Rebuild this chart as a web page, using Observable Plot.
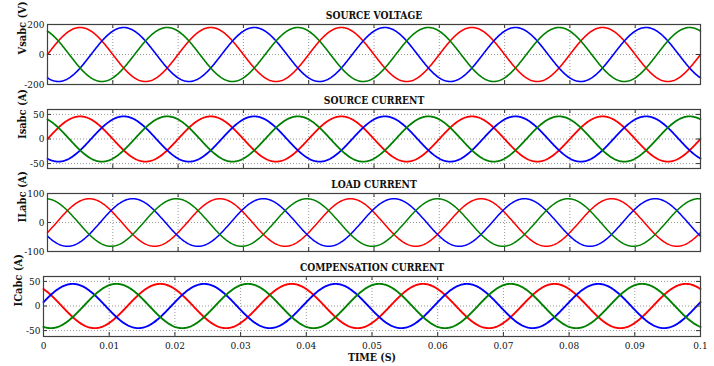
<!DOCTYPE html>
<html><head><meta charset="utf-8">
<script src="https://cdn.jsdelivr.net/npm/d3@7"></script>
<script src="https://cdn.jsdelivr.net/npm/@observablehq/plot@0.6"></script>
<style>
html,body{margin:0;padding:0;background:#fff;}
#chart{position:relative;width:714px;height:366px;overflow:hidden;background:#fff;}
#chart svg{position:absolute;left:0;}
</style></head><body><div id="chart"></div>
<script>
// ---- data ----
const phaseNames = ["a", "b", "c"];
const phaseColors = ["#ff0000", "#0000ff", "#008000"];
const frequencyHz = 50;
const timeStart = 0, timeEnd = 0.1, timeStep = 0.0001;
const xTicks = [0, 0.01, 0.02, 0.03, 0.04, 0.05, 0.06, 0.07, 0.08, 0.09, 0.1];
const xLabel = "TIME (S)";

const titles = ["SOURCE VOLTAGE", "SOURCE CURRENT", "LOAD CURRENT", "COMPENSATION CURRENT"];
const yLabels = ["Vsabc (V)", "Isabc (A)", "ILabc (A)", "ICabc (A)"];
const yDomains = [[-200, 200], [-60, 60], [-100, 100], [-62, 60]];
const yTickValues = [[-200, 0, 200], [-50, 0, 50], [-100, 0, 100], [-50, 0, 50]];

// peak amplitude and phase angle (degrees) of phases a, b, c
const sourceVoltageAmp = [180, 180, 180];
const sourceVoltagePhase = [0, -120, 120];
const sourceCurrentAmp = [46, 46, 46];
const sourceCurrentPhase = [0, -120, 120];
const loadCurrentAmp = [82, 82, 82];
const loadCurrentPhase = [-25, -145, 95];
const compCurrentAmp = [45, 45, 45];
const compCurrentPhase = [130, 10, 250];

const panelAmps = [sourceVoltageAmp, sourceCurrentAmp, loadCurrentAmp, compCurrentAmp];
const panelPhases = [sourceVoltagePhase, sourceCurrentPhase, loadCurrentPhase, compCurrentPhase];

// ---- build waveform tables ----
function waveform(amps, phases) {
  const rows = [];
  const n = Math.round((timeEnd - timeStart) / timeStep);
  phaseNames.forEach((p, k) => {
    for (let i = 0; i <= n; i++) {
      const t = timeStart + i * timeStep;
      rows.push({t, v: amps[k] * Math.sin(2 * Math.PI * frequencyHz * t + phases[k] * Math.PI / 180), phase: p});
    }
  });
  return rows;
}

const layout = [
  {top: 0,   height: 88,  mt: 24, mb: 4,  ml: 47, sw: 1.6},
  {top: 88,  height: 84,  mt: 21, mb: 4,  ml: 47, sw: 1.8},
  {top: 172, height: 84,  mt: 21, mb: 5,  ml: 47, sw: 1.5},
  {top: 256, height: 110, mt: 20, mb: 30, ml: 43, sw: 1.9}
];
const W = 714, MR = 14;
const serif = "'DejaVu Serif Condensed','DejaVu Serif',serif";
const yFmt = d => d < 0 ? "-" + (-d) : String(d);
const xFmt = d => d === 0 ? "0" : String(+d.toFixed(2));

const chart = document.getElementById("chart");
layout.forEach((L, i) => {
  const fh = L.height - L.mt - L.mb;
  const fw = W - L.ml - MR;
  const last = i === layout.length - 1;
  const yGrid = yTickValues[i].filter(v => v > yDomains[i][0] && v < yDomains[i][1]);
  const marks = [
    Plot.ruleX(xTicks, {x: d => d, stroke: "#9a9a9a", strokeDasharray: "1,2"}),
    Plot.ruleY(yGrid, {y: d => d, stroke: "#9a9a9a", strokeDasharray: "1,2"}),
    Plot.line(waveform(panelAmps[i], panelPhases[i]), {x: "t", y: "v", z: "phase", stroke: "phase", strokeWidth: L.sw}),
    Plot.ruleX(xTicks, {x: d => d, insetBottom: fh - 4, stroke: "#333"}),
    Plot.ruleX(xTicks, {x: d => d, insetTop: fh - 4, stroke: "#333"}),
    Plot.ruleY(yTickValues[i], {y: d => d, insetRight: fw - 4, stroke: "#333"}),
    Plot.ruleY(yTickValues[i], {y: d => d, insetLeft: fw - 4, stroke: "#333"}),
    Plot.frame({stroke: "#404040", strokeWidth: 1.2}),
    Plot.axisY(yTickValues[i], {tickSize: 0, tickPadding: 3, tickFormat: yFmt, fontSize: 10, label: null}),
    Plot.text([titles[i]], {frameAnchor: "top", dy: -12.6, fontWeight: "bold", fontSize: 10.2}),
    Plot.text([yLabels[i]], {frameAnchor: "left", dx: -25, rotate: -90, fontWeight: "bold", fontSize: 11})
  ];
  if (last) {
    marks.push(Plot.axisX(xTicks, {tickSize: 0, tickPadding: 5, tickFormat: xFmt, fontSize: 10, label: null}));
    marks.push(Plot.text([xLabel], {frameAnchor: "bottom", dy: 24, fontWeight: "bold", fontSize: 10.5}));
  }
  const svg = Plot.plot({
    width: W, height: L.height,
    marginTop: L.mt, marginBottom: L.mb, marginLeft: L.ml, marginRight: MR,
    x: {domain: [timeStart, timeEnd], axis: last ? undefined : null, label: null},
    y: {domain: yDomains[i], label: null},
    color: {domain: phaseNames, range: phaseColors},
    style: {fontFamily: serif, fontSize: "10px", background: "transparent", color: "#111", overflow: "visible"},
    marks
  });
  svg.style.top = L.top + "px";
  chart.appendChild(svg);
});
</script></body></html>
